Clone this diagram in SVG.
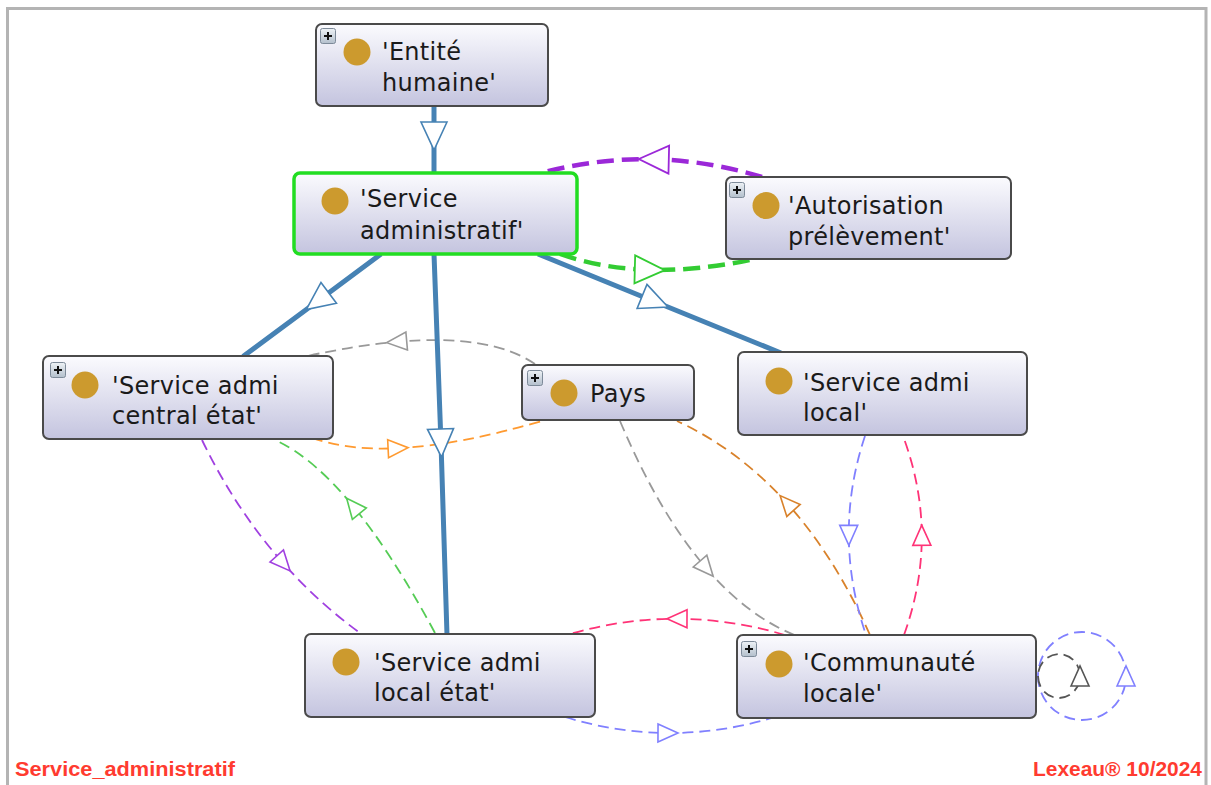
<svg xmlns="http://www.w3.org/2000/svg" width="1211" height="785" viewBox="0 0 1211 785">
<style>
.box{fill:url(#ng);stroke:#4a4a4a;stroke-width:2}
.sel{stroke:#22dd22;stroke-width:3.5}
.dot{fill:#cc9a2e}
.lbl{font-family:"DejaVu Sans","Noto Sans",sans-serif;font-size:24px;fill:#1a1a1a;letter-spacing:0.3px}
.pbox{fill:url(#pg);stroke:#7d8a99;stroke-width:1}
.pl{stroke:#111;stroke-width:2;fill:none}
.e{fill:none}
.solid{stroke:#4682b4;stroke-width:5;marker-mid:url(#m-blue)}
.thick{stroke-width:4.5;stroke-dasharray:17 8}
.thin{stroke-width:1.8;stroke-dasharray:11 6}
.foot{font-family:"Liberation Sans",Arial,sans-serif;font-weight:bold;font-size:19.5px;fill:#ff3b30}
</style>
<defs>
<linearGradient id="ng" x1="0" y1="0" x2="0" y2="1">
<stop offset="0" stop-color="#fbfbfe"/>
<stop offset="1" stop-color="#c4c4df"/>
</linearGradient>
<linearGradient id="pg" x1="0" y1="0" x2="0" y2="1">
<stop offset="0" stop-color="#eef2f6"/>
<stop offset="1" stop-color="#b3bfcc"/>
</linearGradient>
<g id="plus"><rect class="pbox" x="0.5" y="0.5" width="15" height="15" rx="2"/><path class="pl" d="M4,8 H12 M8,4 V12"/></g>
<marker id="m-blue" markerUnits="userSpaceOnUse" viewBox="-16 -16 32 32" markerWidth="32" markerHeight="32" refX="0" refY="0" orient="auto"><path d="M-14,-13 L14,0 L-14,13 Z" fill="#fff" stroke="#4682b4" stroke-width="1.6"/></marker>
<marker id="m-purple" markerUnits="userSpaceOnUse" viewBox="-17 -17 34 34" markerWidth="34" markerHeight="34" refX="0" refY="0" orient="auto"><path d="M-15,-14 L15,0 L-15,14 Z" fill="#fff" stroke="#9b28d8" stroke-width="1.8"/></marker>
<marker id="m-green" markerUnits="userSpaceOnUse" viewBox="-17 -17 34 34" markerWidth="34" markerHeight="34" refX="0" refY="0" orient="auto"><path d="M-15,-14 L15,0 L-15,14 Z" fill="#fff" stroke="#33cc33" stroke-width="1.8"/></marker>
<marker id="m-gray" markerUnits="userSpaceOnUse" viewBox="-12 -12 24 24" markerWidth="24" markerHeight="24" refX="0" refY="0" orient="auto"><path d="M-10,-9 L10,0 L-10,9 Z" fill="#fff" stroke="#999" stroke-width="1.6"/></marker>
<marker id="m-orange" markerUnits="userSpaceOnUse" viewBox="-12 -12 24 24" markerWidth="24" markerHeight="24" refX="0" refY="0" orient="auto"><path d="M-10,-9 L10,0 L-10,9 Z" fill="#fff" stroke="#ff9a30" stroke-width="1.6"/></marker>
<marker id="m-violet" markerUnits="userSpaceOnUse" viewBox="-12 -12 24 24" markerWidth="24" markerHeight="24" refX="0" refY="0" orient="auto"><path d="M-10,-9 L10,0 L-10,9 Z" fill="#fff" stroke="#a040e0" stroke-width="1.6"/></marker>
<marker id="m-lgreen" markerUnits="userSpaceOnUse" viewBox="-12 -12 24 24" markerWidth="24" markerHeight="24" refX="0" refY="0" orient="auto"><path d="M-10,-9 L10,0 L-10,9 Z" fill="#fff" stroke="#55cc55" stroke-width="1.6"/></marker>
<marker id="m-brown" markerUnits="userSpaceOnUse" viewBox="-12 -12 24 24" markerWidth="24" markerHeight="24" refX="0" refY="0" orient="auto"><path d="M-10,-9 L10,0 L-10,9 Z" fill="#fff" stroke="#d9822b" stroke-width="1.6"/></marker>
<marker id="m-lav" markerUnits="userSpaceOnUse" viewBox="-12 -12 24 24" markerWidth="24" markerHeight="24" refX="0" refY="0" orient="auto"><path d="M-10,-9 L10,0 L-10,9 Z" fill="#fff" stroke="#8080ff" stroke-width="1.6"/></marker>
<marker id="m-pink" markerUnits="userSpaceOnUse" viewBox="-12 -12 24 24" markerWidth="24" markerHeight="24" refX="0" refY="0" orient="auto"><path d="M-10,-9 L10,0 L-10,9 Z" fill="#fff" stroke="#ff3377" stroke-width="1.6"/></marker>
<marker id="m-dgray" markerUnits="userSpaceOnUse" viewBox="-12 -12 24 24" markerWidth="24" markerHeight="24" refX="0" refY="0" orient="auto"><path d="M-10,-9 L10,0 L-10,9 Z" fill="#fff" stroke="#555" stroke-width="1.6"/></marker>
</defs>

<rect width="1211" height="785" fill="#fff"/>
<path d="M7.5,785 V8.5 H1206 V785" fill="none" stroke="#b4b4b4" stroke-width="3"/>

<g id="connectors">
<path class="e thick" stroke="#9b28d8" marker-mid="url(#m-purple)" d="M762,177 Q708,160.5 653.8,159.3 Q599.5,158 545,172"/>
<path class="e thick" stroke="#33cc33" marker-mid="url(#m-green)" d="M560,254 Q601,268.5 649.8,269.8 Q698.5,271 755,259"/>
<path class="e thin" stroke="#999" marker-mid="url(#m-gray)" d="M535,364 Q490.2,333.6 396.7,341.8 Q354.8,345.5 303,357"/>
<path class="e thin" stroke="#ff9a30" marker-mid="url(#m-orange)" d="M312,438 Q348.8,450.7 398.1,448.2 Q458.4,445.2 542,421"/>
<path class="e thin" stroke="#a040e0" marker-mid="url(#m-violet)" d="M202,440 Q235.6,509.6 283.4,563.4 Q318,602.3 360,633"/>
<path class="e thin" stroke="#55cc55" marker-mid="url(#m-lgreen)" d="M435,633 Q392.5,554 353,506 Q313.5,458 277,441"/>
<path class="e thin" stroke="#999" marker-mid="url(#m-gray)" d="M620,421 Q659.2,513.8 706.6,568.6 Q748.6,617.2 797,636"/>
<path class="e thin" stroke="#d9822b" marker-mid="url(#m-brown)" d="M870,635 Q835,556.5 786.8,503 Q738.5,449.5 677,421"/>
<path class="e thin" stroke="#8080ff" marker-mid="url(#m-lav)" d="M865,436 Q848.5,485.5 848.8,535.3 Q849,585 866,635"/>
<path class="e thin" stroke="#ff3377" marker-mid="url(#m-pink)" d="M904,635 Q922,585 921.8,535.3 Q921.5,485.5 903,436"/>
<path class="e thin" stroke="#ff3377" marker-mid="url(#m-pink)" d="M785,635 Q731,619 677,618.8 Q623.5,618.5 570,634"/>
<path class="e thin" stroke="#8080ff" marker-mid="url(#m-lav)" d="M565,717 Q616.3,732.8 668,733 Q719.8,733.3 772,718"/>
<path class="e thin" stroke="#8080ff" marker-mid="url(#m-lav)" d="M1038,676 A44,44 0 0 0 1126,676 A44,44 0 0 0 1038,676"/>
<path class="e thin" stroke="#555" marker-mid="url(#m-dgray)" d="M1038,676 A21,22 0 0 0 1080,676 A21,22 0 0 0 1038,676"/>
<path class="e solid" d="M434,107 L434,136 L434,174"/>
<path class="e solid" d="M381,254 L317.5,301.2 L243,356.5"/>
<path class="e solid" d="M434,254 L441,443 L447,635"/>
<path class="e solid" d="M538,254 L655,301.7 L781,353"/>
</g>

<g id="n-entite-humaine">
<rect class="box" x="316" y="24" width="232" height="82" rx="6"/>
<use href="#plus" x="320" y="28"/>
<circle class="dot" cx="357" cy="52" r="13.5"/>
<text class="lbl" x="382"><tspan x="382" y="60">'Entité</tspan><tspan x="382" y="91">humaine'</tspan></text>
</g>
<g id="n-service-administratif">
<rect class="box sel" x="294" y="173" width="283" height="81" rx="6"/>
<circle class="dot" cx="335" cy="201" r="13.5"/>
<text class="lbl" x="360"><tspan x="360" y="207">'Service</tspan><tspan x="360" y="239">administratif'</tspan></text>
</g>
<g id="n-autorisation-prelevement">
<rect class="box" x="726" y="177" width="285" height="82" rx="6"/>
<use href="#plus" x="729" y="182"/>
<circle class="dot" cx="766" cy="205.5" r="13.5"/>
<text class="lbl" x="788"><tspan x="788" y="214">'Autorisation</tspan><tspan x="788" y="245">prélèvement'</tspan></text>
</g>
<g id="n-service-admi-central-etat">
<rect class="box" x="43" y="356" width="290" height="83" rx="6"/>
<use href="#plus" x="50" y="362"/>
<circle class="dot" cx="85" cy="385" r="13.5"/>
<text class="lbl" x="112"><tspan x="112" y="394">'Service admi</tspan><tspan x="112" y="424">central état'</tspan></text>
</g>
<g id="n-pays">
<rect class="box" x="522" y="365" width="172" height="55" rx="6"/>
<use href="#plus" x="527" y="370"/>
<circle class="dot" cx="564" cy="393" r="13.5"/>
<text class="lbl" x="590" y="402">Pays</text>
</g>
<g id="n-service-admi-local">
<rect class="box" x="738" y="352" width="289" height="83" rx="6"/>
<circle class="dot" cx="779" cy="381" r="13.5"/>
<text class="lbl" x="803"><tspan x="803" y="391">'Service admi</tspan><tspan x="803" y="421">local'</tspan></text>
</g>
<g id="n-service-admi-local-etat">
<rect class="box" x="305" y="634" width="290" height="83" rx="6"/>
<circle class="dot" cx="346" cy="662" r="13.5"/>
<text class="lbl" x="374"><tspan x="374" y="671">'Service admi</tspan><tspan x="374" y="701">local état'</tspan></text>
</g>
<g id="n-communaute-locale">
<rect class="box" x="737" y="635" width="299" height="83" rx="6"/>
<use href="#plus" x="741" y="641"/>
<circle class="dot" cx="779" cy="664" r="13.5"/>
<text class="lbl" x="803"><tspan x="803" y="671">'Communauté</tspan><tspan x="803" y="702">locale'</tspan></text>
</g>

<text class="foot" x="15" y="776" textLength="220" lengthAdjust="spacingAndGlyphs">Service_administratif</text>
<text class="foot" x="1033" y="776" textLength="169" lengthAdjust="spacingAndGlyphs">Lexeau® 10/2024</text>
</svg>
